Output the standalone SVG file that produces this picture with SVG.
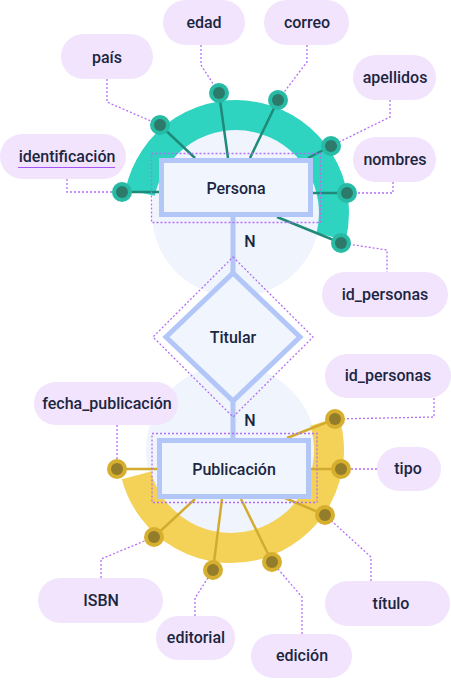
<svg xmlns="http://www.w3.org/2000/svg" width="451" height="680" viewBox="0 0 451 680">
<defs>
<style>
text{font-family:Roboto,"Liberation Sans",sans-serif;font-size:16px;font-weight:500;fill:#1b2642;text-anchor:middle}
.bg{fill:#eff4fd}
.pill{fill:#f2e4fc}
.dot{fill:none;stroke:#b46ef5;stroke-width:1.3;stroke-dasharray:2 2}
.box{fill:#f0f5fe;stroke:#b3c6f8;stroke-width:5}
.rel{stroke:#b3c6f8;stroke-width:5;fill:none}
.tl{stroke:#1f8a78;stroke-width:2.5;fill:none}
.yl{stroke:#d3ac2f;stroke-width:2.5;fill:none}
.to{fill:#27bba6}.ti{fill:#2d7a6b}
.yo{fill:#d6af2f}.yi{fill:#937c2a}
</style>
</defs>
<rect width="451" height="680" fill="#ffffff"/>
<circle class="bg" cx="236" cy="213" r="84"/>
<circle class="bg" cx="231" cy="450" r="85"/>
<path d="M140.14,192.62 A98,98 0 1 1 331.09,236.71" fill="none" stroke="#2fd4c0" stroke-width="30"/>
<path d="M324.72,421.35 A98,98 0 1 1 136.34,475.36" fill="none" stroke="#f3d257" stroke-width="30"/>
<g id="connectors">
<line class="rel" x1="233" y1="217" x2="233" y2="274"/>
<line class="rel" x1="233" y1="400" x2="233" y2="440"/>
<path class="tl" d="M122,192H160M160,125L195,158M219,93L228,158M278,100L250,158M331,146L308,158M347,193H313M341,243L277,217"/>
<path class="yl" d="M117,469H158M335,419L287,438M341,469H311M325,515L285,498M272,562L241,499M213,570L222,499M154,537L195,499"/>
<path class="dot" d="M107,79V102L160,125M201,45V65L219,93M307,45V62L278,100M390,100V117L331,146M393,182V193H347M67,179V192H122M341,243L387,250V272"/>
<path class="dot" d="M117,425V469M434,398V417L335,419M377,469H341M371,581V557L325,515M302,634V597L272,562M195,616V598L213,570M101,578V559L154,537"/>
<text x="250" y="247">N</text>
<text x="250" y="426">N</text>
</g>
<g id="persona">
<rect class="box" x="161.5" y="160.5" width="149" height="54"/>
<rect class="dot" x="151.5" y="153.5" width="169" height="69"/>
<text x="236" y="194">Persona</text>
</g>
<g id="titular">
<polygon class="box" points="233,273 300,337 233,401 166,337"/>
<polygon class="dot" points="233,257 313,337 233,417 153,337"/>
<text x="233" y="343">Titular</text>
</g>
<g id="publicacion">
<rect class="box" x="159.5" y="440.5" width="149" height="56"/>
<rect class="dot" x="152" y="433.5" width="165" height="69"/>
<text x="234" y="475">Publicación</text>
</g>
<g id="persona-nodes">
<circle class="to" cx="122" cy="192" r="10"/><circle class="ti" cx="122" cy="192" r="6"/>
<circle class="to" cx="160" cy="125" r="10"/><circle class="ti" cx="160" cy="125" r="6"/>
<circle class="to" cx="219" cy="93" r="10"/><circle class="ti" cx="219" cy="93" r="6"/>
<circle class="to" cx="278" cy="100" r="10"/><circle class="ti" cx="278" cy="100" r="6"/>
<circle class="to" cx="331" cy="146" r="10"/><circle class="ti" cx="331" cy="146" r="6"/>
<circle class="to" cx="347" cy="193" r="10"/><circle class="ti" cx="347" cy="193" r="6"/>
<circle class="to" cx="341" cy="243" r="10"/><circle class="ti" cx="341" cy="243" r="6"/>
</g>
<g id="publicacion-nodes">
<circle class="yo" cx="117" cy="469" r="10"/><circle class="yi" cx="117" cy="469" r="6"/>
<circle class="yo" cx="335" cy="419" r="10"/><circle class="yi" cx="335" cy="419" r="6"/>
<circle class="yo" cx="341" cy="469" r="10"/><circle class="yi" cx="341" cy="469" r="6"/>
<circle class="yo" cx="325" cy="515" r="10"/><circle class="yi" cx="325" cy="515" r="6"/>
<circle class="yo" cx="272" cy="562" r="10"/><circle class="yi" cx="272" cy="562" r="6"/>
<circle class="yo" cx="213" cy="570" r="10"/><circle class="yi" cx="213" cy="570" r="6"/>
<circle class="yo" cx="154" cy="537" r="10"/><circle class="yi" cx="154" cy="537" r="6"/>
</g>
<g id="attr-pais"><rect class="pill" x="61" y="34" width="92" height="45" rx="22.5"/><text x="107" y="63">país</text></g>
<g id="attr-edad"><rect class="pill" x="163" y="0" width="82" height="45" rx="22.5"/><text x="204" y="28">edad</text></g>
<g id="attr-correo"><rect class="pill" x="264" y="0" width="85" height="45" rx="22.5"/><text x="307" y="28">correo</text></g>
<g id="attr-apellidos"><rect class="pill" x="353" y="55" width="83" height="45" rx="22.5"/><text x="395" y="83">apellidos</text></g>
<g id="attr-nombres"><rect class="pill" x="353" y="137" width="83" height="45" rx="22.5"/><text x="395" y="165">nombres</text></g>
<g id="attr-identificacion"><rect class="pill" x="0" y="134" width="126" height="45" rx="22.5"/><text x="67" y="162">identificación</text><line x1="18" y1="167.5" x2="115" y2="167.5" stroke="#a855f7" stroke-width="1.2"/></g>
<g id="attr-id-personas-1"><rect class="pill" x="322" y="272" width="126" height="45" rx="22.5"/><text x="385" y="300">id_personas</text></g>
<g id="attr-fecha"><rect class="pill" x="34" y="382" width="144" height="43" rx="21.5"/><text x="107" y="409">fecha_publicación</text></g>
<g id="attr-id-personas-2"><rect class="pill" x="325" y="354" width="126" height="44" rx="22"/><text x="388" y="381">id_personas</text></g>
<g id="attr-tipo"><rect class="pill" x="377" y="447" width="64" height="44" rx="22"/><text x="408" y="474">tipo</text></g>
<g id="attr-titulo"><rect class="pill" x="325" y="581" width="125" height="45" rx="22.5"/><text x="391" y="609">título</text></g>
<g id="attr-edicion"><rect class="pill" x="251" y="634" width="101" height="44" rx="22"/><text x="302" y="661">edición</text></g>
<g id="attr-editorial"><rect class="pill" x="156" y="616" width="79" height="44" rx="22"/><text x="196" y="643">editorial</text></g>
<g id="attr-isbn"><rect class="pill" x="38" y="578" width="125" height="45" rx="22.5"/><text x="101" y="606">ISBN</text></g>
</svg>
